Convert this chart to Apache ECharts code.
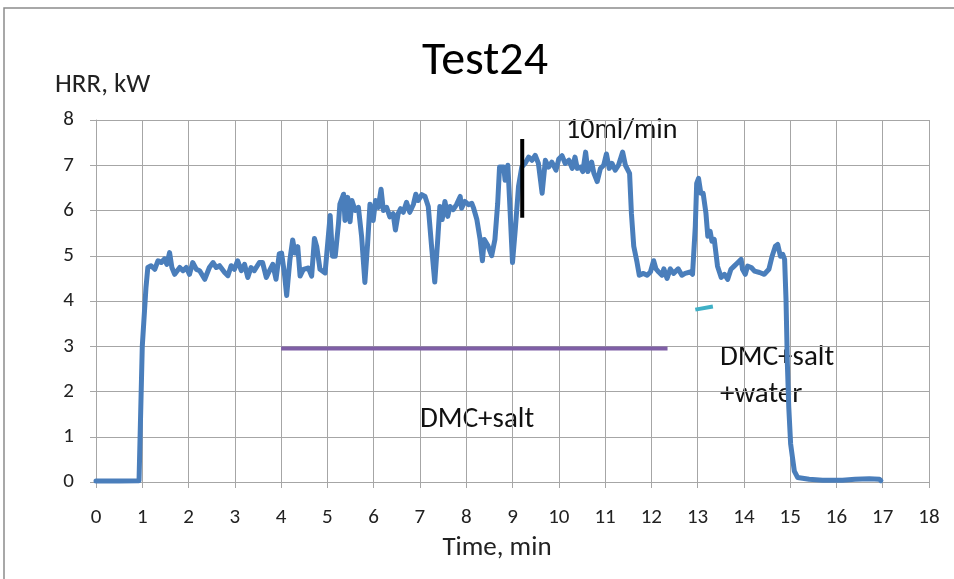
<!DOCTYPE html>
<html>
<head>
<meta charset="utf-8">
<script src="https://cdn.jsdelivr.net/npm/echarts@6/dist/echarts.min.js"></script>
<style>html,body{margin:0;padding:0;background:#fff}#c{width:954px;height:579px}</style>
</head>
<body>
<div id="c"></div>
<script>
// ---- data ----
const timeMin = [0,0.5,0.93,1.0,1.08,1.12,1.19,1.27,1.34,1.41,1.48,1.53,1.59,1.64,1.70,1.81,1.88,1.95,2.02,2.09,2.17,2.24,2.35,2.45,2.53,2.60,2.67,2.78,2.85,2.92,2.99,3.06,3.14,3.21,3.28,3.35,3.42,3.53,3.60,3.68,3.75,3.82,3.89,3.96,
4.01,4.07,4.12,4.19,4.25,4.30,4.36,4.41,4.48,4.59,4.66,4.72,4.77,4.84,4.95,5.06,5.11,5.17,5.24,5.27,5.35,5.38,5.44,5.49,5.53,5.60,5.67,5.74,5.81,5.87,5.92,5.99,6.04,6.10,6.16,6.21,6.28,6.35,6.42,6.47,6.53,6.58,6.64,6.71,6.78,6.86,6.91,6.96,
7.04,7.11,7.18,7.25,7.32,7.38,7.43,7.48,7.54,7.60,7.65,7.72,7.79,7.87,7.90,7.97,8.05,8.12,8.16,8.23,8.30,8.35,8.39,8.47,8.55,8.62,8.68,8.72,8.81,8.84,8.90,8.95,9.00,9.06,9.13,9.20,9.27,9.35,9.42,9.49,9.56,9.64,9.71,9.78,9.85,9.94,
10.0,10.07,10.14,10.22,10.29,10.35,10.40,10.47,10.52,10.58,10.63,10.71,10.76,10.83,10.90,10.97,11.03,11.09,11.15,11.22,11.29,11.38,11.44,11.53,11.57,11.62,11.69,11.74,11.83,11.91,11.98,12.05,12.10,12.16,12.23,12.27,12.34,12.41,12.48,12.58,12.66,12.73,12.84,12.89,12.95,12.98,
13.02,13.07,13.12,13.18,13.22,13.27,13.31,13.36,13.43,13.51,13.58,13.65,13.72,13.79,13.87,13.94,13.97,14.03,14.08,14.16,14.23,14.34,14.44,14.54,14.61,14.68,14.73,14.79,14.84,14.88,14.91,14.94,14.97,15.01,15.09,15.16,15.41,15.7,16.13,16.4,16.71,16.93,16.96];
const hrrKW = [0.02,0.02,0.03,3.0,4.3,4.74,4.78,4.70,4.89,4.85,4.93,4.81,5.07,4.74,4.59,4.74,4.67,4.74,4.59,4.85,4.70,4.67,4.48,4.74,4.85,4.74,4.78,4.63,4.56,4.78,4.70,4.89,4.67,4.81,4.52,4.74,4.67,4.85,4.85,4.52,4.67,4.81,4.48,5.04,
5.06,4.62,4.12,4.91,5.35,5.06,5.20,4.55,4.70,4.73,4.55,5.38,5.20,4.70,4.62,5.89,4.99,4.99,5.71,6.14,6.36,5.78,6.29,5.75,6.22,6.0,6.07,5.42,4.41,5.28,6.14,5.78,6.22,6.07,6.47,6.0,6.07,5.86,5.93,5.57,5.93,6.04,5.96,6.18,5.96,6.14,6.36,6.22,
6.35,6.31,6.09,5.22,4.42,5.29,6.09,5.80,6.20,5.87,6.09,6.02,6.13,6.31,6.05,6.20,6.13,6.16,6.05,5.80,5.36,4.89,5.36,5.22,5.0,5.36,6.16,6.96,6.96,6.67,7.0,5.95,4.85,5.58,6.53,6.96,7.04,7.18,7.11,7.22,7.04,6.38,7.11,6.96,7.07,6.89,
7.14,7.21,7.04,7.11,6.93,7.18,6.93,6.96,6.86,7.29,6.86,7.07,6.82,6.64,6.93,7.0,7.25,6.93,7.04,6.89,7.0,7.29,7.0,6.82,5.93,5.21,4.86,4.57,4.61,4.57,4.64,4.89,4.71,4.64,4.57,4.71,4.50,4.71,4.61,4.71,4.57,4.61,4.64,4.59,5.65,6.60,
6.71,6.38,6.38,5.94,5.43,5.54,5.32,5.36,4.77,4.52,4.59,4.48,4.70,4.77,4.85,4.92,4.70,4.59,4.77,4.74,4.66,4.63,4.59,4.70,4.99,5.21,5.25,4.99,5.03,4.92,4.04,2.6,1.65,0.84,0.24,0.10,0.06,0.04,0.04,0.06,0.07,0.06,0.03];
const purpleX = [4.0, 12.35];
const purpleY = [2.95, 2.95];
const blackX = [9.21, 9.21];
const blackY = [5.84, 7.58];
const tealX = [12.95, 13.33];
const tealY = [3.81, 3.88];
const xTicks = [0,1,2,3,4,5,6,7,8,9,10,11,12,13,14,15,16,17,18];
const yTicks = [0,1,2,3,4,5,6,7,8];

const FONT = 'Carlito, Lato, sans-serif';
const zip = (a,b) => a.map((v,i)=>[v,b[i]]);

const chart = echarts.init(document.getElementById('c'), null, {renderer:'canvas'});
chart.setOption({
  animation:false,
  backgroundColor:'#fff',
  grid:{left:96,right:25,top:120,bottom:97},
  xAxis:{type:'value',min:xTicks[0],max:xTicks[xTicks.length-1],interval:1,
    axisLine:{show:true,lineStyle:{color:'#a6a6a6',width:1}},
    axisTick:{show:true,length:6,lineStyle:{color:'#a6a6a6'}},
    axisLabel:{color:'#222',fontFamily:FONT,fontSize:21,margin:25},
    splitLine:{show:true,lineStyle:{color:'#a6a6a6',width:1}}},
  yAxis:{type:'value',min:yTicks[0],max:yTicks[yTicks.length-1],interval:1,
    axisLine:{show:true,lineStyle:{color:'#a6a6a6',width:1}},
    axisTick:{show:true,length:6,lineStyle:{color:'#a6a6a6'}},
    axisLabel:{color:'#222',fontFamily:FONT,fontSize:21,margin:22},
    splitLine:{show:true,lineStyle:{color:'#a6a6a6',width:1}}},
  series:[
    {type:'line',data:zip(purpleX,purpleY),symbol:'none',lineStyle:{color:'#7f5fa6',width:4},silent:true},
    {type:'line',data:zip(tealX,tealY),symbol:'none',lineStyle:{color:'#3fb0c6',width:4},silent:true},
    {type:'line',data:zip(timeMin,hrrKW),symbol:'none',lineStyle:{color:'#4a7ebb',width:5,join:'round',cap:'round'}},
    {type:'line',data:zip(blackX,blackY),symbol:'none',lineStyle:{color:'#000',width:4},silent:true,z:5}
  ],
  graphic:[
    {type:'rect',shape:{x:4,y:8,width:1200,height:1200},style:{fill:'none',stroke:'#8c8c8c',lineWidth:1.5},silent:true},
    {type:'text',x:485,y:62,style:{text:'Test24',font:'48px '+FONT,fill:'#000',textAlign:'center',textVerticalAlign:'middle'}},
    {type:'text',x:55,y:85,style:{text:'HRR, kW',font:'27px '+FONT,fill:'#222',textVerticalAlign:'middle'}},
    {type:'text',x:497,y:548,style:{text:'Time, min',font:'27px '+FONT,fill:'#222',textAlign:'center',textVerticalAlign:'middle'}},
    {type:'text',x:566,y:131,style:{text:'10ml/min',font:'28px '+FONT,fill:'#111',textVerticalAlign:'middle'}},
    {type:'text',x:420,y:420,style:{text:'DMC+salt',font:'29px '+FONT,fill:'#111',textVerticalAlign:'middle'}},
    {type:'text',x:720,y:358,style:{text:'DMC+salt',font:'29px '+FONT,fill:'#111',textVerticalAlign:'middle'}},
    {type:'text',x:720,y:395,style:{text:'+water',font:'29px '+FONT,fill:'#111',textVerticalAlign:'middle'}}
  ]
});
</script>
</body>
</html>
